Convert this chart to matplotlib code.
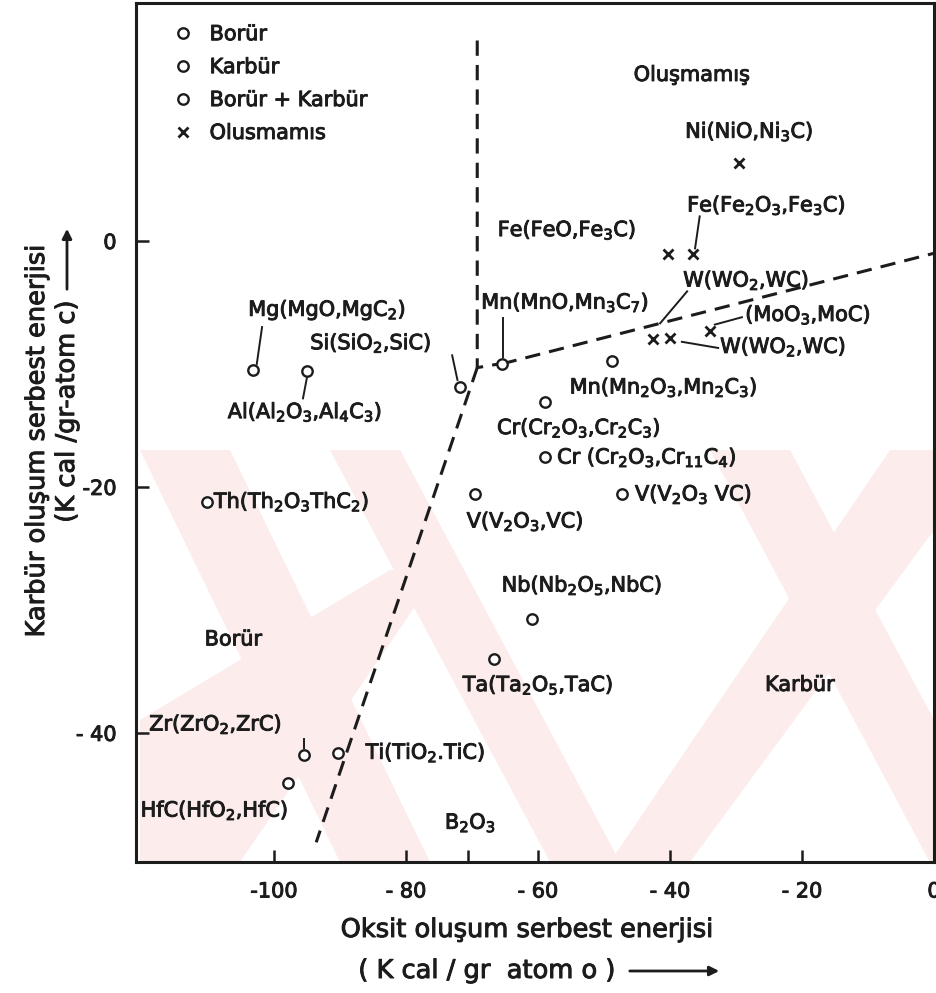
import matplotlib
matplotlib.use("Agg")
import matplotlib.pyplot as plt
from matplotlib.patches import FancyArrowPatch, Polygon
import matplotlib.patheffects as pe

plt.rcParams['font.family'] = ['DejaVu Sans']
plt.rcParams['mathtext.default'] = 'regular'
INK = '#1c1c1c'
THICK = [pe.withStroke(linewidth=0.7, foreground=INK)]

# ---------------- data ----------------
# Borür (circles)
borur_names = ['Mg', 'Al', 'Th', 'Zr', 'Hf']
borur_x = [-103.2, -95.0, -110.2, -95.5, -97.9]
borur_y = [-10.5, -10.6, -21.2, -41.8, -44.1]
# Karbür (circles)
karbur_names = ['Mn2O3', 'Cr2C3', 'Cr11C4', 'V-left', 'V-right', 'Nb', 'Ta']
karbur_x = [-48.8, -58.9, -58.9, -69.5, -47.3, -60.9, -66.7]
karbur_y = [-9.8, -13.1, -17.6, -20.6, -20.6, -30.7, -34.0]
# Borür + Karbür (circles)
both_names = ['Si', 'MnO', 'Ti']
both_x = [-71.8, -65.5, -90.3]
both_y = [-11.9, -10.0, -41.6]
# Oluşmamış (x)
none_names = ['Ni', 'FeO', 'Fe2O3', 'WO2a', 'WO2b', 'MoO3']
none_x = [-29.5, -40.3, -36.5, -42.6, -40.0, -33.9]
none_y = [6.3, -1.1, -1.1, -8.0, -7.9, -7.3]

# region boundaries (dashed)
upper_bx = [-69.2, -69.2, -65.9]
upper_by = [16.3, -10.3, -10.0]
right_bx = [-65.5, 0.0]
right_by = [-10.0, -1.0]
lower_bx = [-69.2, -93.6]
lower_by = [-10.3, -48.9]

# annotations: (text, x, y)
labels = [
    ('Mg(MgO,MgC$_2$)', -103.9, -5.6),
    ('Si(SiO$_2$,SiC)', -94.5, -8.3),
    ('Al(Al$_2$O$_3$,Al$_4$C$_3$)', -107.0, -13.9),
    ('Mn(MnO,Mn$_3$C$_7$)', -68.6, -5.0),
    ('Mn(Mn$_2$O$_3$,Mn$_2$C$_3$)', -55.2, -11.9),
    ('Cr(Cr$_2$O$_3$,Cr$_2$C$_3$)', -66.2, -15.2),
    ('Cr (Cr$_2$O$_3$,Cr$_{11}$C$_4$)', -57.1, -17.6),
    ('V(V$_2$O$_3$,VC)', -70.8, -22.8),
    ('V(V$_2$O$_3$ VC)', -45.3, -20.6),
    ('Nb(Nb$_2$O$_5$,NbC)', -65.5, -28.0),
    ('Ta(Ta$_2$O$_5$,TaC)', -71.4, -36.1),
    ('Th(Th$_2$O$_3$ThC$_2$)', -109.1, -21.2),
    ('Zr(ZrO$_2$,ZrC)', -118.9, -39.3),
    ('Ti(TiO$_2$.TiC)', -86.1, -41.6),
    ('HfC(HfO$_2$,HfC)', -120.2, -46.3),
    ('B$_2$O$_3$', -74.1, -47.3),
    ('Ni(NiO,Ni$_3$C)', -37.7, 8.9),
    ('Fe(Fe$_2$O$_3$,Fe$_3$C)', -37.4, 2.9),
    ('Fe(FeO,Fe$_3$C)', -66.1, 0.9),
    ('W(WO$_2$,WC)', -38.0, -3.2),
    ('(MoO$_3$,MoC)', -28.6, -6.0),
    ('W(WO$_2$,WC)', -32.4, -8.6),
]
regions = [('Oluşmamış', -45.5, 13.5), ('Borür', -110.5, -32.4), ('Karbür', -25.6, -36.1)]

# leader lines: (x0, y0, x1, y1)
leaders = [
    (-101.8, -7.0, -102.6, -10.0),
    (-73.0, -9.3, -72.2, -11.3),
    (-95.0, -11.1, -95.6, -12.8),
    (-65.3, -6.3, -65.3, -9.4),
    (-95.5, -40.5, -95.5, -41.2),
    (-35.5, 2.0, -36.2, -0.6),
    (-37.4, -4.1, -41.5, -6.7),
    (-33.2, -6.8, -29.1, -6.2),
    (-38.2, -8.2, -32.7, -8.7),
]

xticks = [-100, -80, -70.6, -60, -40, -20, 0]
xticklabels = ['-100', '- 80', '', '- 60', '- 40', '- 20', '0']
yticks = [0, -20, -40]
yticklabels = ['0', '-20', '- 40']

# ---------------- figure ----------------
W, H = 936, 993
fig = plt.figure(figsize=(W / 100, H / 100), dpi=100)
ax = fig.add_axes([136 / W, (H - 862) / H, (934 - 136) / W, (862 - 3) / H])
ax.set_xlim(-120.9, 0)
ax.set_ylim(-50.5, 19.35)


def fx(px):
    return px / W


def fy(py):
    return 1 - py / H


# faint pink background watermark (scanned page decoration)
pink = '#fcecec'
bands = [
    [(140, 450), (230, 450), (430, 862), (340, 862)],
    [(330, 450), (400, 450), (620, 862), (550, 862)],
    [(710, 450), (790, 450), (934, 720), (934, 870)],
    [(890, 450), (934, 450), (934, 530), (690, 862), (610, 862)],
    [(140, 720), (140, 862), (240, 862), (440, 570), (390, 570)],
]
for b in bands:
    poly = Polygon([(fx(x), fy(y)) for x, y in b], closed=True, transform=fig.transFigure,
                   facecolor=pink, edgecolor='none', zorder=0)
    poly.set_clip_path(ax.patch)
    ax.add_artist(poly)
ax.patch.set_alpha(0)

mk = dict(linestyle='none', marker='o', markersize=7.5, markerfacecolor='white',
          markeredgecolor=INK, markeredgewidth=1.7)
ax.plot(borur_x, borur_y, label='Borür', zorder=4, **mk)
ax.plot(karbur_x, karbur_y, label='Karbür', zorder=4, **mk)
ax.plot(both_x, both_y, label='Borür + Karbür', zorder=4, **mk)
ax.plot(none_x, none_y, linestyle='none', marker='x', markersize=7, color=INK,
        markeredgewidth=2.0, label='Olusmamıs', zorder=4)

dash = dict(color=INK, lw=2.2, linestyle=(0, (5, 3)), zorder=3)
ax.plot(upper_bx, upper_by, **dash)
ax.plot(right_bx, right_by, **dash)
ax.plot(lower_bx, lower_by, **dash)

for x0, y0, x1, y1 in leaders:
    ax.plot([x0, x1], [y0, y1], color=INK, lw=1.4, zorder=3)

for t, x, y in labels:
    ax.text(x, y, t, ha='left', va='center', fontsize=15, color=INK, zorder=5,
            path_effects=THICK)
for t, x, y in regions:
    ax.text(x, y, t, ha='left', va='center', fontsize=15, color=INK, zorder=5,
            path_effects=THICK)

ax.set_xticks(xticks)
ax.set_xticklabels(xticklabels)
ax.set_yticks(yticks)
ax.set_yticklabels(yticklabels)
ax.tick_params(direction='in', length=9, width=1.8, colors=INK, labelsize=15)
ax.tick_params(axis='x', pad=14)
ax.tick_params(axis='y', pad=14)
for lab in ax.get_xticklabels() + ax.get_yticklabels():
    lab.set_path_effects(THICK)
for s in ax.spines.values():
    s.set_linewidth(2.2)
    s.set_color(INK)

leg = ax.legend(loc='upper left', bbox_to_anchor=(0.04, 0.985), frameon=False,
                fontsize=15, handlelength=0.6, handletextpad=1.0, labelspacing=0.62,
                borderaxespad=0.0)
for t in leg.get_texts():
    t.set_color(INK)
    t.set_path_effects(THICK)

# axis titles
fig.text(fx(528), fy(930), 'Oksit oluşum serbest enerjisi', ha='center', va='center',
         fontsize=18.5, color=INK, path_effects=THICK)
fig.text(fx(487), fy(971), '( K cal / gr  atom o )', ha='center', va='center',
         fontsize=18.5, color=INK, path_effects=THICK)
fig.add_artist(FancyArrowPatch(
    (fx(627), fy(971)), (fx(722), fy(971)), transform=fig.transFigure,
    arrowstyle='-|>', mutation_scale=14, lw=2.0, color=INK))

fig.text(fx(37), fy(440), 'Karbür oluşum serbest enerjisi', ha='center', va='center',
         rotation=90, fontsize=18.5, color=INK, path_effects=THICK)
fig.text(fx(67), fy(300), '(K cal /gr-atom c)', ha='center', va='top',
         rotation=90, fontsize=18.5, color=INK, path_effects=THICK)
fig.add_artist(FancyArrowPatch(
    (fx(67), fy(292)), (fx(67), fy(226)), transform=fig.transFigure,
    arrowstyle='-|>', mutation_scale=14, lw=2.0, color=INK))

fig.savefig('out.png', dpi=100, facecolor='white')
